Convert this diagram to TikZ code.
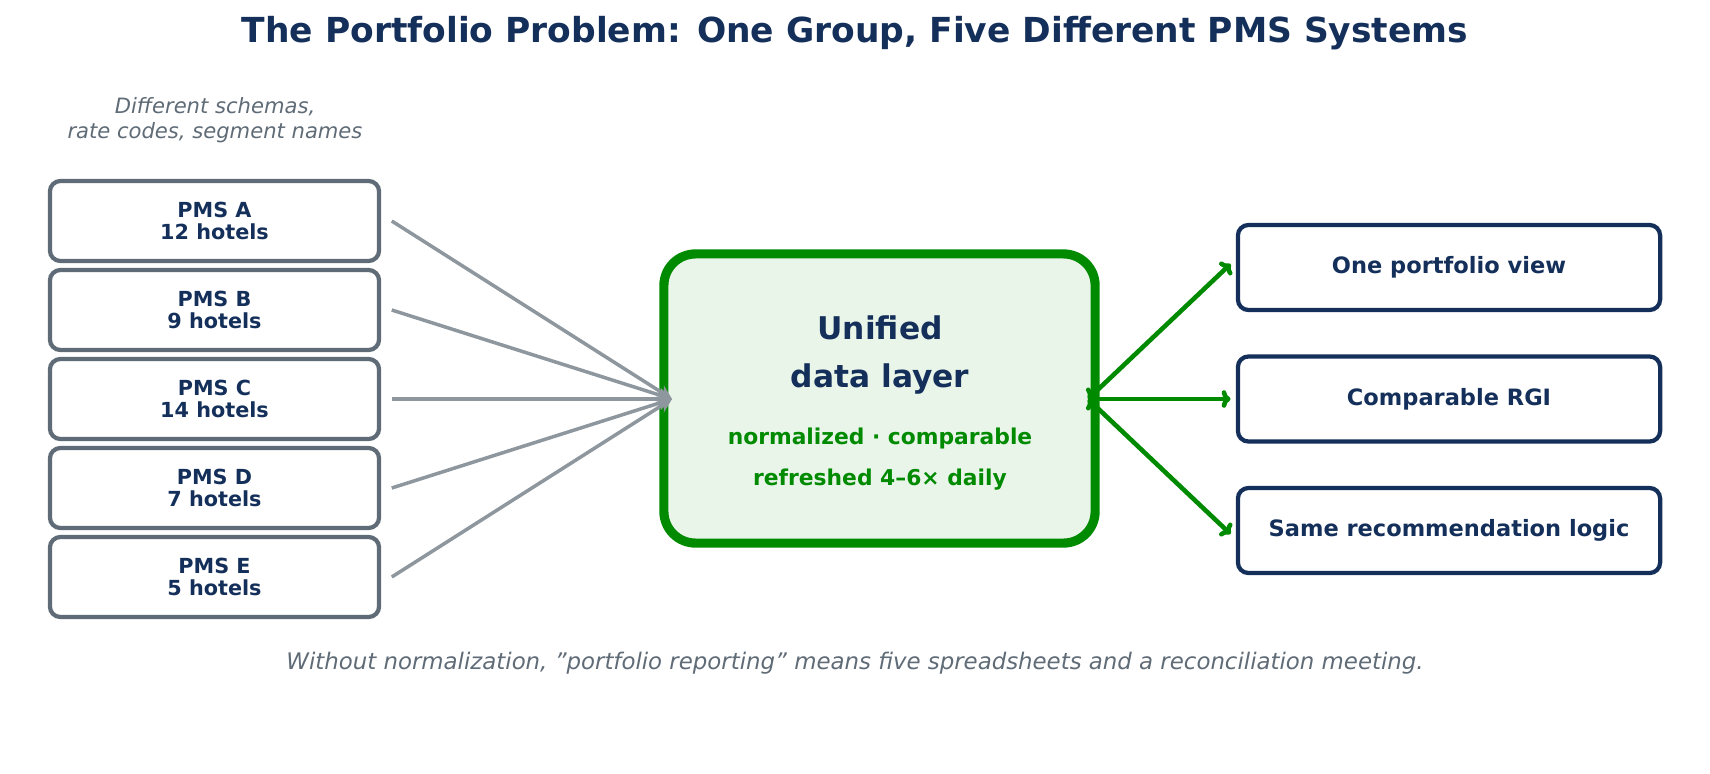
\documentclass[tikz,border=0pt]{standalone}
\usepackage{fontspec}
\setmainfont{DejaVu Sans}
\usetikzlibrary{arrows.meta}
\definecolor{navy}{HTML}{14305A}
\definecolor{slate}{HTML}{5F6B76}
\definecolor{wire}{HTML}{8F979E}
\definecolor{leaf}{HTML}{008A00}
\definecolor{mint}{HTML}{EAF5EA}
\tikzset{
  pms/.style={draw=slate, line width=1.2pt, rounded corners=3pt, minimum width=3.29cm, minimum height=0.8cm, align=center, text=navy, font=\fontsize{5.9}{6.2}\selectfont\bfseries},
  goal/.style={draw=navy, line width=1.2pt, rounded corners=3pt, minimum width=4.22cm, minimum height=0.85cm, text=navy, font=\fontsize{6.4}{7}\selectfont\bfseries},
  feed/.style={draw=wire, line width=1pt, -{Stealth[length=4pt,width=4pt]}},
  emit/.style={draw=leaf, line width=1.3pt, {To[length=2.5pt,width=5pt]}-{To[length=2.5pt,width=5pt]}}
}
\begin{document}
\begin{tikzpicture}[x=0.01cm, y=-0.01cm]
  \useasboundingbox (0,0) rectangle (1710,773);
  \node[text=navy, font=\fontsize{9.8}{10}\selectfont\bfseries] (title) at (855,33) {The Portfolio Problem: One Group, Five Different PMS Systems};
  \node[text=slate, align=center, font=\fontsize{6}{7.1}\selectfont\itshape] (note) at (215,120) {Different schemas,\\rate codes, segment names};

  % sources
  \node[pms] (a) at (214.5,221) {PMS A\\12 hotels};
  \node[pms] (b) at (214.5,310) {PMS B\\9 hotels};
  \node[pms] (c) at (214.5,399) {PMS C\\14 hotels};
  \node[pms] (d) at (214.5,488) {PMS D\\7 hotels};
  \node[pms] (e) at (214.5,577) {PMS E\\5 hotels};

  % hub
  \node[draw=leaf, fill=mint, line width=2.6pt, rounded corners=9pt, minimum width=4.31cm, minimum height=2.89cm] (hub) at (879.5,398.5) {};
  \node[text=navy, font=\fontsize{8.9}{9}\selectfont\bfseries] (h1) at (880,328) {Unified};
  \node[text=navy, font=\fontsize{8.9}{9}\selectfont\bfseries] (h2) at (880,379) {data layer};
  \node[text=leaf, font=\fontsize{6.2}{7}\selectfont\bfseries] (h3) at (880,438) {normalized · comparable};
  \node[text=leaf, font=\fontsize{6.2}{7}\selectfont\bfseries] (h4) at (880,480) {refreshed 4–6× daily};

  % targets
  \node[goal] (v) at (1449,267.5) {One portfolio view};
  \node[goal] (r) at (1449,399) {Comparable RGI};
  \node[goal] (l) at (1449,530.5) {Same recommendation logic};

  \coordinate (in) at (672,399);
  \coordinate (hubout) at (1088,399);
  \foreach \s in {a,b,c,d,e}
    \draw[feed] ([xshift=3pt]\s.east) -- (in);
  \draw[emit] (hubout) -- ([xshift=-1.5pt,yshift=1pt]v.west);
  \draw[emit] (hubout) -- ([xshift=-1.5pt]r.west);
  \draw[emit] (hubout) -- ([xshift=-1.5pt,yshift=-1pt]l.west);

  \node[text=slate, font=\fontsize{6.5}{7}\selectfont\itshape] (foot) at (855,663) {Without normalization, \char34portfolio reporting\char34{} means five spreadsheets and a reconciliation meeting.};
\end{tikzpicture}
\end{document}
